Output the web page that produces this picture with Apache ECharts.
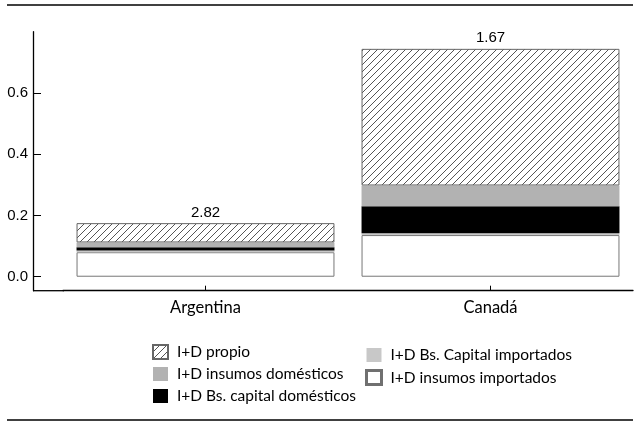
<!DOCTYPE html>
<html>
<head>
<meta charset="utf-8">
<script src="https://cdn.jsdelivr.net/npm/echarts@6/dist/echarts.min.js"></script>
<style>
html,body{margin:0;padding:0;background:#fff;}
#c{width:641px;height:426px;}
</style>
</head>
<body>
<div id="c"></div>
<script>
const categories = ['Argentina', 'Canadá'];
const insumosImportados = [0.080, 0.136];
const capitalImportados = [0.006, 0.006];
const capitalDomesticos = [0.010, 0.088];
const insumosDomesticos = [0.016, 0.068];
const propio = [0.063, 0.446];
const topLabels = ['2.82', '1.67'];
const yTicks = [0, 0.2, 0.4, 0.6];

function hatch() {
  const s = 7;
  const cv = document.createElement('canvas');
  cv.width = s; cv.height = s;
  const g = cv.getContext('2d');
  g.fillStyle = '#fff';
  g.fillRect(0, 0, s, s);
  g.strokeStyle = '#555';
  g.lineWidth = 1;
  g.beginPath();
  g.moveTo(0, s); g.lineTo(s, 0);
  g.moveTo(-1, 1); g.lineTo(1, -1);
  g.moveTo(s - 1, s + 1); g.lineTo(s + 1, s - 1);
  g.stroke();
  return { image: cv, repeat: 'repeat' };
}

const chart = echarts.init(document.getElementById('c'), null, { renderer: 'canvas' });
const txt = { fontFamily: 'Lato', fontSize: 15.5, color: '#000', lineHeight: 16, padding: [0, 0, 0, 4] };
const barCommon = { type: 'bar', stack: 't', barCategoryGap: '9.5%' };

chart.setOption({
  animation: false,
  backgroundColor: '#fff',
  grid: { left: 63, right: 8, top: 31.7, bottom: 135.3 },
  xAxis: {
    type: 'category',
    data: categories,
    axisLine: { onZero: false, lineStyle: { color: '#000', width: 1.3 } },
    axisTick: { show: true, inside: true, length: 5, alignWithLabel: true, lineStyle: { color: '#000' } },
    axisLabel: { color: '#000', fontFamily: 'Lato', fontSize: 16.5, margin: 8 }
  },
  yAxis: {
    type: 'value',
    min: -0.0456,
    max: 0.8,
    offset: 30,
    splitLine: { show: false },
    axisLine: { show: true, lineStyle: { color: '#000', width: 1.3 } },
    axisTick: { show: true, inside: true, length: 8, customValues: yTicks, lineStyle: { color: '#000' } },
    axisLabel: {
      customValues: yTicks,
      color: '#000', fontFamily: 'Liberation Sans', fontSize: 15, margin: 5,
      formatter: v => v.toFixed(1)
    }
  },
  legend: [
    {
      orient: 'vertical', left: 147, top: 339, itemWidth: 15, itemHeight: 14, itemGap: 6,
      icon: 'rect', textStyle: txt,
      data: ['I+D propio', 'I+D insumos domésticos', 'I+D Bs. capital domésticos']
    },
    {
      orient: 'vertical', left: 360, top: 342, itemWidth: 15, itemHeight: 14, itemGap: 6,
      icon: 'rect', textStyle: txt,
      data: ['I+D Bs. Capital importados',
        { name: 'I+D insumos importados', itemStyle: { borderWidth: 3, borderColor: '#707070', color: '#fff' } }]
    }
  ],
  graphic: [
    { type: 'line', shape: { x1: 7, y1: 5, x2: 633, y2: 5 }, style: { stroke: '#000', lineWidth: 1.5 } },
    { type: 'line', shape: { x1: 7, y1: 420, x2: 633, y2: 420 }, style: { stroke: '#000', lineWidth: 1.5 } },
    { type: 'line', shape: { x1: 33, y1: 290.7, x2: 64, y2: 290.7 }, style: { stroke: '#000', lineWidth: 1.3 } }
  ],
  series: [
    Object.assign({}, barCommon, {
      name: 'I+D insumos importados', data: insumosImportados,
      itemStyle: { color: '#fff', borderColor: '#777', borderWidth: 1 }
    }),
    Object.assign({}, barCommon, {
      name: 'I+D Bs. Capital importados', data: capitalImportados,
      itemStyle: { color: '#c8c8c8' }
    }),
    Object.assign({}, barCommon, {
      name: 'I+D Bs. capital domésticos', data: capitalDomesticos,
      itemStyle: { color: '#000' }
    }),
    Object.assign({}, barCommon, {
      name: 'I+D insumos domésticos', data: insumosDomesticos,
      itemStyle: { color: '#b2b2b2' }
    }),
    Object.assign({}, barCommon, {
      name: 'I+D propio', data: propio,
      itemStyle: { color: hatch(), borderColor: '#666', borderWidth: 1 },
      label: {
        show: true, position: 'top', distance: 3,
        color: '#000', fontFamily: 'Liberation Sans', fontSize: 15,
        formatter: p => topLabels[p.dataIndex]
      }
    })
  ]
});
</script>
</body>
</html>
